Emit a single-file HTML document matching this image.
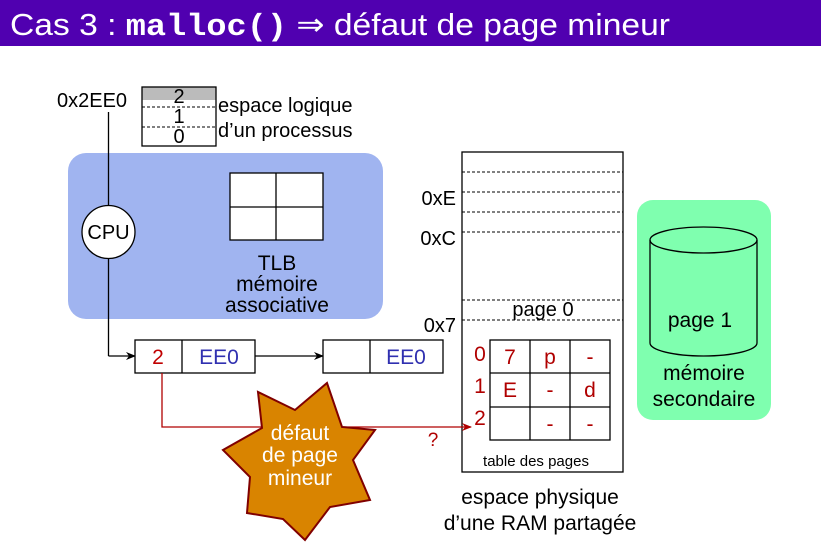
<!DOCTYPE html>
<html><head><meta charset="utf-8"><style>
body{margin:0;width:821px;height:546px;background:#fff;overflow:hidden}
svg{display:block}
text{font-family:"Liberation Sans",sans-serif}
</style></head><body>
<svg width="821" height="546" viewBox="0 0 821 546" xmlns="http://www.w3.org/2000/svg">
<defs>
<marker id="ab" markerWidth="10" markerHeight="8" refX="9" refY="4" orient="auto" markerUnits="userSpaceOnUse"><path d="M0,0 L10,4 L0,8 L3,4 z" fill="#000"/></marker>
<marker id="ar" markerWidth="10" markerHeight="8" refX="9" refY="4" orient="auto" markerUnits="userSpaceOnUse"><path d="M0,0 L10,4 L0,8 L3,4 z" fill="#b00000"/></marker>
</defs>
<rect x="0" y="0" width="821" height="46" fill="#5000b0"/>
<text x="10" y="35" font-size="31" fill="#fff" textLength="660" lengthAdjust="spacingAndGlyphs">Cas 3 : <tspan font-family="Liberation Mono" font-weight="bold">malloc()</tspan> ⇒ défaut de page mineur</text>

<!-- logical space -->
<rect x="142" y="87" width="74" height="13" fill="#bbb"/>
<rect x="142" y="87" width="74" height="59" fill="none" stroke="#000" stroke-width="1.3"/>
<line x1="142" y1="107" x2="216" y2="107" stroke="#000" stroke-dasharray="3,2"/>
<line x1="142" y1="127" x2="216" y2="127" stroke="#000" stroke-dasharray="3,2"/>
<text x="179" y="103" font-size="20" text-anchor="middle">2</text>
<text x="179" y="123" font-size="20" text-anchor="middle">1</text>
<text x="179" y="143" font-size="20" text-anchor="middle">0</text>
<text x="57" y="107" font-size="20">0x2EE0</text>
<text x="218" y="112" font-size="20">espace logique</text>
<text x="218" y="137" font-size="20">d’un processus</text>

<rect x="68" y="153" width="315" height="166" rx="18" fill="#a0b4f0"/>
<line x1="108.5" y1="112" x2="108.5" y2="356" stroke="#000" stroke-width="1.3"/>
<line x1="108.5" y1="356" x2="135" y2="356" stroke="#000" stroke-width="1.3" marker-end="url(#ab)"/>
<circle cx="108.5" cy="232" r="26.5" fill="#fff" stroke="#000" stroke-width="1.3"/>
<text x="108.5" y="239" font-size="20" text-anchor="middle">CPU</text>
<rect x="230" y="173" width="93" height="67" fill="#fff" stroke="#000" stroke-width="1.3"/>
<line x1="276" y1="173" x2="276" y2="240" stroke="#000" stroke-width="1.3"/>
<line x1="230" y1="207" x2="323" y2="207" stroke="#000" stroke-width="1.3"/>
<text x="277" y="270" font-size="21" text-anchor="middle">TLB</text>
<text x="277" y="291" font-size="21" text-anchor="middle">mémoire</text>
<text x="277" y="312" font-size="21" text-anchor="middle">associative</text>

<!-- entries -->
<rect x="135" y="340" width="120" height="33" fill="#fff" stroke="#000" stroke-width="1.3"/>
<line x1="182" y1="340" x2="182" y2="373" stroke="#000" stroke-width="1.3"/>
<text x="158" y="364" font-size="21" text-anchor="middle" fill="#c00000">2</text>
<text x="219" y="364" font-size="21" text-anchor="middle" fill="#3030b0">EE0</text>
<line x1="255" y1="356" x2="323" y2="356" stroke="#000" stroke-width="1.3" marker-end="url(#ab)"/>
<rect x="323" y="340" width="120" height="33" fill="#fff" stroke="#000" stroke-width="1.3"/>
<line x1="370" y1="340" x2="370" y2="373" stroke="#000" stroke-width="1.3"/>
<text x="406" y="364" font-size="21" text-anchor="middle" fill="#3030b0">EE0</text>

<!-- physical memory -->
<rect x="462" y="152" width="161" height="320" fill="#fff" stroke="#000" stroke-width="1.3"/>
<g stroke="#000" stroke-dasharray="3,2">
<line x1="462" y1="172" x2="623" y2="172"/>
<line x1="462" y1="192" x2="623" y2="192"/>
<line x1="462" y1="212" x2="623" y2="212"/>
<line x1="462" y1="232" x2="623" y2="232"/>
<line x1="462" y1="300" x2="623" y2="300"/>
<line x1="462" y1="320" x2="623" y2="320"/>
</g>
<text x="456" y="205" font-size="20" text-anchor="end">0xE</text>
<text x="456" y="245" font-size="20" text-anchor="end">0xC</text>
<text x="456" y="332" font-size="20" text-anchor="end">0x7</text>
<text x="543" y="316" font-size="20" text-anchor="middle">page 0</text>
<rect x="490" y="340" width="120" height="100" fill="#fff" stroke="#000" stroke-width="1.3"/>
<g stroke="#000" stroke-width="1.3">
<line x1="530" y1="340" x2="530" y2="440"/>
<line x1="570" y1="340" x2="570" y2="440"/>
<line x1="490" y1="373" x2="610" y2="373"/>
<line x1="490" y1="407" x2="610" y2="407"/>
</g>
<g fill="#b00000" font-size="21" text-anchor="middle">
<text x="480" y="361">0</text><text x="480" y="393">1</text><text x="480" y="425">2</text>
<text x="510" y="364">7</text><text x="550" y="364">p</text><text x="590" y="364">-</text>
<text x="510" y="397">E</text><text x="550" y="397">-</text><text x="590" y="397">d</text>
<text x="550" y="431">-</text><text x="590" y="431">-</text>
</g>
<text x="536" y="466" font-size="15" text-anchor="middle">table des pages</text>
<text x="540" y="504" font-size="21" text-anchor="middle">espace physique</text>
<text x="540" y="530" font-size="21" text-anchor="middle">d’une RAM partagée</text>

<polyline points="162,373 162,427 471,427" fill="none" stroke="#b00000" stroke-width="1.3" marker-end="url(#ar)"/>
<text x="433" y="446" font-size="19" text-anchor="middle" fill="#b00000">?</text>

<polygon points="327,383 342,427 375,430 353,460 370,500 330,507 305,540 283,519 247,513 250,477 223,450 262,428 258,392 295,410" fill="#d98400" stroke="#800000" stroke-width="2"/>
<text x="300" y="440" font-size="21" text-anchor="middle" fill="#fff">défaut</text>
<text x="300" y="462" font-size="21" text-anchor="middle" fill="#fff">de page</text>
<text x="300" y="485" font-size="21" text-anchor="middle" fill="#fff">mineur</text>

<!-- secondary memory -->
<rect x="637" y="200" width="134" height="220" rx="16" fill="#7fffaf"/>
<path d="M650,240 L650,343 A53.5,13 0 0 0 757,343 L757,240" fill="none" stroke="#000" stroke-width="1.3"/>
<ellipse cx="703.5" cy="240" rx="53.5" ry="13" fill="none" stroke="#000" stroke-width="1.3"/>
<text x="700" y="327" font-size="21" text-anchor="middle">page 1</text>
<text x="704" y="380" font-size="21" text-anchor="middle">mémoire</text>
<text x="704" y="406" font-size="21" text-anchor="middle">secondaire</text>
</svg>
</body></html>
